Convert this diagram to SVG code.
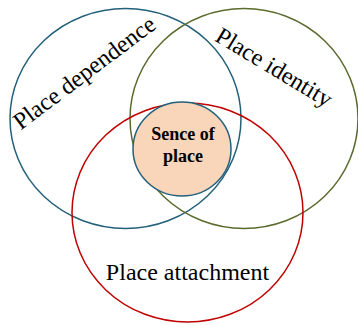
<svg xmlns="http://www.w3.org/2000/svg" width="358" height="325" viewBox="0 0 358 325">
<style>
.c{fill:none;stroke-width:1.5}
.lbl{font-family:"Liberation Serif","Times New Roman",serif;font-size:24px;fill:#000}
.core{font-family:"Liberation Serif","Times New Roman",serif;font-size:18px;font-weight:bold;fill:#000;text-anchor:middle}
</style>
<rect width="358" height="325" fill="#fff"/>
<g id="place-dependence">
<ellipse class="c" cx="125.5" cy="118.5" rx="115.5" ry="110" stroke="#23607A"/>
<text class="lbl" text-anchor="middle" transform="translate(89,79) rotate(-37)">Place dependence</text>
</g>
<g id="place-identity">
<ellipse class="c" cx="244" cy="118.5" rx="114" ry="110" stroke="#5B6B2E"/>
<text class="lbl" text-anchor="middle" transform="translate(270,74) rotate(31)">Place identity</text>
</g>
<g id="place-attachment">
<ellipse class="c" cx="187.5" cy="212.5" rx="115.5" ry="109.5" stroke="#C00000"/>
<text class="lbl" x="187.5" y="280" text-anchor="middle">Place attachment</text>
</g>
<g id="sense-of-place">
<ellipse cx="182" cy="149" rx="49" ry="47" fill="#F9D5BA" stroke="#23607A" stroke-width="1.5"/>
<text class="core" x="183" y="140">Sence of</text>
<text class="core" x="183" y="162">place</text>
</g>
</svg>
